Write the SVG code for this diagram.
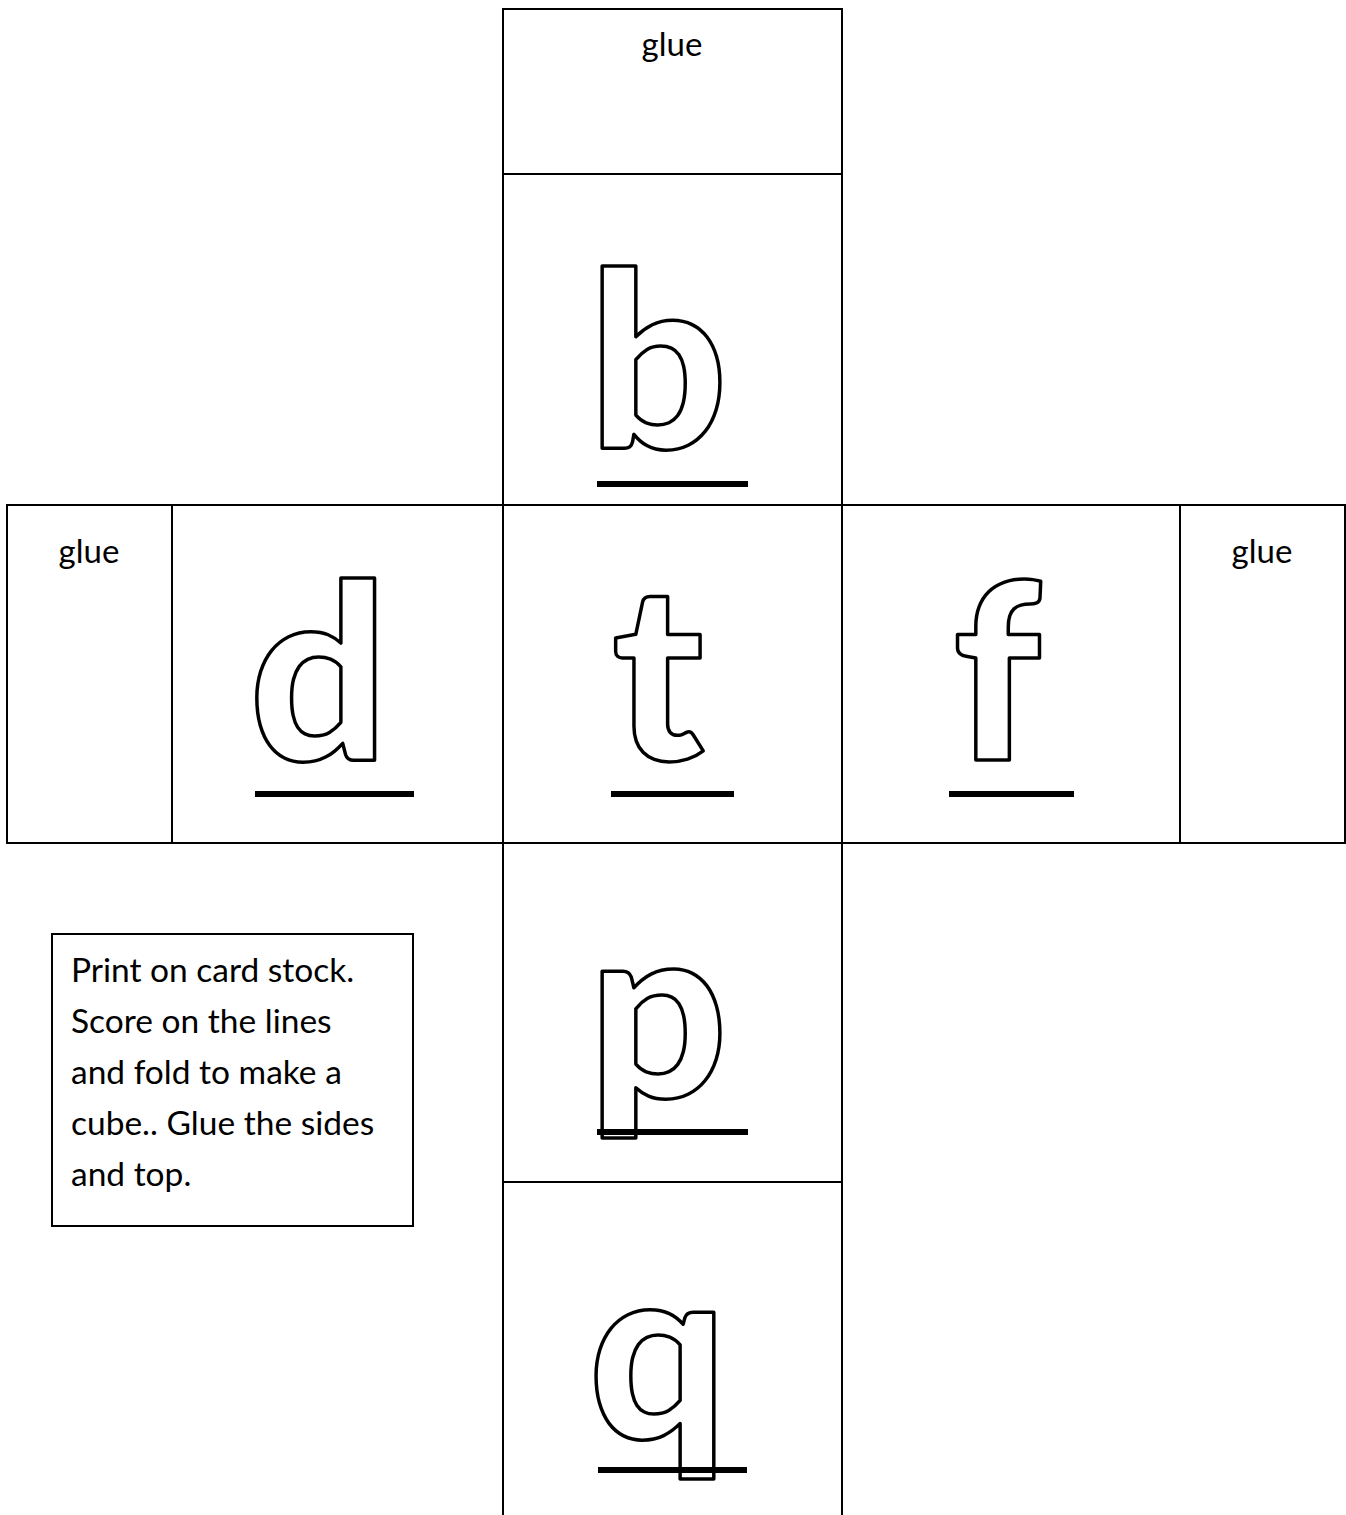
<svg xmlns="http://www.w3.org/2000/svg" width="1346" height="1515" viewBox="0 0 1346 1515">
<style>
.panel{fill:#fff;stroke:#000;stroke-width:2}
.glue{font-family:Lato,"Noto Sans",sans-serif;font-size:33px;fill:#000;text-anchor:middle}
.big{font-family:Lato,"Open Sans",sans-serif;font-weight:900;font-size:244px;fill:#fff;stroke:#000;stroke-width:3.5;stroke-linejoin:round;text-anchor:middle}
.ul{fill:#000}
.note{font-family:Lato,"Noto Sans",sans-serif;font-size:33.5px;fill:#000}
</style>
<rect width="1346" height="1515" fill="#fff"/>
<g id="connectors">
</g>
<g id="top-glue"><rect class="panel" x="503" y="9" width="339" height="165"/><text class="glue" x="672" y="56">glue</text></g>
<g id="face-b"><rect class="panel" x="503" y="174" width="339" height="331"/><text class="big" x="658" y="448">b</text><rect class="ul" x="597" y="481" width="151" height="6"/></g>
<g id="left-glue"><rect class="panel" x="7" y="505" width="165" height="338"/><text class="glue" x="89" y="563">glue</text></g>
<g id="face-d"><rect class="panel" x="172" y="505" width="331" height="338"/><text class="big" x="319" y="760">d</text><rect class="ul" x="255" y="791" width="159" height="6"/></g>
<g id="face-t"><rect class="panel" x="503" y="505" width="339" height="338"/><text class="big" x="658" y="760">t</text><rect class="ul" x="611" y="791" width="123" height="6"/></g>
<g id="face-f"><rect class="panel" x="842" y="505" width="338" height="338"/><text class="big" x="997" y="760">f</text><rect class="ul" x="949" y="791" width="125" height="6"/></g>
<g id="right-glue"><rect class="panel" x="1180" y="505" width="165" height="338"/><text class="glue" x="1262" y="563">glue</text></g>
<g id="face-p"><rect class="panel" x="503" y="843" width="339" height="339"/><text class="big" x="658" y="1097">p</text><rect class="ul" x="597" y="1129" width="151" height="6"/></g>
<g id="face-q"><path class="panel" d="M503 1182 H842 V1516 M503 1182 V1516" fill="#fff"/><text class="big" x="658" y="1438">q</text><rect class="ul" x="598" y="1467" width="149" height="6"/></g>
<g id="note"><rect class="panel" x="52" y="934" width="361" height="292"/>
<text class="note" x="71"><tspan x="71" y="982">Print on card stock.</tspan><tspan x="71" y="1033">Score on the lines</tspan><tspan x="71" y="1084">and fold to make a</tspan><tspan x="71" y="1135">cube.. Glue the sides</tspan><tspan x="71" y="1186">and top.</tspan></text></g>
</svg>
